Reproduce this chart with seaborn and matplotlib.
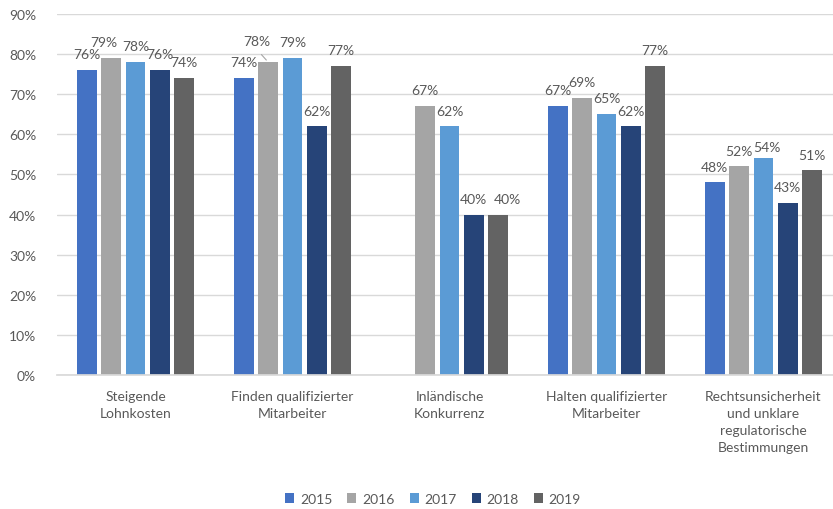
import matplotlib
matplotlib.use("Agg")
import matplotlib.pyplot as plt
import seaborn as sns
import pandas as pd
import numpy as np

categories = [
    "Steigende\nLohnkosten",
    "Finden qualifizierter\nMitarbeiter",
    "Inländische\nKonkurrenz",
    "Halten qualifizierter\nMitarbeiter",
    "Rechtsunsicherheit\nund unklare\nregulatorische\nBestimmungen",
]
years = ["2015", "2016", "2017", "2018", "2019"]
v2015 = [76, 74, np.nan, 67, 48]
v2016 = [79, 78, 67, 69, 52]
v2017 = [78, 79, 62, 65, 54]
v2018 = [76, 62, 40, 62, 43]
v2019 = [74, 77, 40, 77, 51]
series = [v2015, v2016, v2017, v2018, v2019]
colors = ["#4472C4", "#A5A5A5", "#5B9BD5", "#264478", "#636363"]
yticks = [0, 10, 20, 30, 40, 50, 60, 70, 80, 90]

rows = []
for y, vals in zip(years, series):
    for c, v in zip(categories, vals):
        rows.append({"Kategorie": c, "Jahr": y, "Wert": v})
df = pd.DataFrame(rows)

sns.set_theme(style="white")
plt.rcParams["font.family"] = ["Lato", "DejaVu Sans"]
TXT = "#595959"
FS = 10

fig = plt.figure(figsize=(8.33, 5.10), dpi=100)
ax = fig.add_axes([57 / 833, (510 - 376) / 510, 785 / 833, 361 / 510])

sns.barplot(data=df, x="Kategorie", y="Wert", hue="Jahr", order=categories,
            hue_order=years, palette=colors, width=0.774, gap=0.2,
            saturation=1, errorbar=None, ax=ax, legend=True,
            linewidth=0)

ax.set_ylim(0, 90)
ax.set_xlim(-0.5, 4.5)
ax.set_yticks(yticks)
ax.set_yticklabels([f"{t}%" for t in yticks])
ax.yaxis.grid(True, color="#D9D9D9", linewidth=1)
ax.set_axisbelow(True)
for s in ["top", "right", "left"]:
    ax.spines[s].set_visible(False)
ax.spines["bottom"].set_color("#D9D9D9")
ax.tick_params(axis="y", length=0, pad=15, labelsize=FS, labelcolor=TXT)
ax.tick_params(axis="x", length=0, pad=11, labelsize=FS, labelcolor=TXT)
for lab in ax.get_xticklabels():
    lab.set_linespacing(1.5)
ax.set_xlabel("")
ax.set_ylabel("")

# label offsets in points (dx, dy) for special cases
special = {(0, "2016"): (-5, 0), (1, "2016"): (-8, 4),
           (2, "2019"): (6.5, 0), (4, "2017"): (2.5, -3)}

for yi, (y, vals) in enumerate(zip(years, series)):
    bars = list(ax.containers[yi])
    for ci, v in enumerate(vals):
        if np.isnan(v):
            continue
        bar = None
        for b in bars:
            xc = b.get_x() + b.get_width() / 2
            if abs(xc - ci) < 0.5 and abs(b.get_height() - v) < 1e-9:
                bar = b
                break
        if bar is None:
            continue
        xc = bar.get_x() + bar.get_width() / 2
        dx, dy = special.get((ci, y), (0, 0))
        ax.annotate(f"{int(v)}%", xy=(xc, v), xytext=(dx, 8.5 + dy),
                    textcoords="offset points", ha="center", va="baseline",
                    fontsize=FS, color=TXT)
        if (ci, y) == (1, "2016"):
            ax.annotate("", xy=(xc, v), xytext=(xc - 0.055, v + 2.4),
                        arrowprops=dict(arrowstyle="-", color="#A5A5A5", lw=0.8))

leg = ax.legend(loc="center", ncol=5, frameon=False,
                fontsize=FS, handlelength=0.65, handleheight=0.65,
                handletextpad=0.4, columnspacing=1.1, labelcolor=TXT,
                bbox_to_anchor=(433 / 833, 10 / 510),
                bbox_transform=fig.transFigure)

fig.savefig("out.png", dpi=100)
